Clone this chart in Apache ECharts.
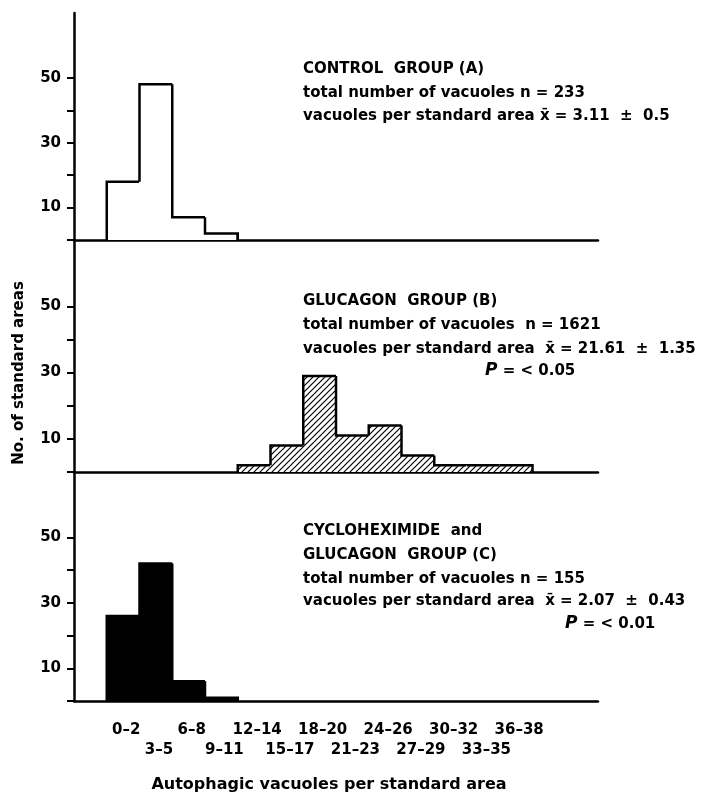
<!DOCTYPE html>
<html>
<head>
<meta charset="utf-8">
<script src="https://cdn.jsdelivr.net/npm/echarts@6/dist/echarts.min.js"></script>
<style>
  html, body { margin: 0; padding: 0; background: #fff; }
  #chart { width: 707px; height: 794px; }
</style>
</head>
<body>
<div id="chart"></div>
<script>
"use strict";

// bins of autophagic vacuoles per standard area
const bins = ['0–2', '3–5', '6–8', '9–11', '12–14', '15–17', '18–20',
              '21–23', '24–26', '27–29', '30–32', '33–35', '36–38'];

// number of standard areas per bin (75 areas each group)
const controlCounts  = [18, 48, 7, 2, 0, 0, 0, 0, 0, 0, 0, 0, 0];
const glucagonCounts = [0, 0, 0, 0, 2, 8, 29, 11, 14, 5, 2, 2, 2];
const cycloCounts    = [26, 42, 6, 1, 0, 0, 0, 0, 0, 0, 0, 0, 0];

const yTickValues  = [0, 10, 20, 30, 40, 50];
const yLabelValues = [10, 30, 50];

const FONT = 'DejaVu Sans';

// empty band before the first bin and two after the last one
const axisCats = [''].concat(bins, ['', '']);

function hatchCanvas() {
    const s = 6;
    const c = document.createElement('canvas');
    c.width = s; c.height = s;
    const ctx = c.getContext('2d');
    ctx.fillStyle = '#fff';
    ctx.fillRect(0, 0, s, s);
    ctx.strokeStyle = '#000';
    ctx.lineWidth = 1.2;
    ctx.beginPath();
    ctx.moveTo(-1, s + 1); ctx.lineTo(s + 1, -1);
    ctx.moveTo(-1, 1); ctx.lineTo(1, -1);
    ctx.moveTo(s - 1, s + 1); ctx.lineTo(s + 1, s - 1);
    ctx.stroke();
    return c;
}

function histData(counts) {
    return counts.map((v, i) => [i + 1, v, counts[i - 1] || 0, counts[i + 1] || 0]);
}

// histogram drawn as filled blocks with a stepped outline
function histRender(fill) {
    return function (params, api) {
        const v = api.value(1), prev = api.value(2), next = api.value(3);
        const w = api.size([1, 0])[0];
        const base = api.coord([api.value(0), 0]);
        const topY = api.coord([api.value(0), v])[1];
        const prevY = api.coord([api.value(0), prev])[1];
        const x0 = base[0] - w / 2, x1 = base[0] + w / 2;
        const children = [];
        if (v > 0) {
            children.push({
                type: 'rect',
                shape: { x: x0 - 0.5, y: topY, width: w + 1, height: base[1] - topY },
                style: { fill: fill, stroke: null }
            });
        }
        if (v > 0 || prev > 0) {
            const pts = [[x0, prevY], [x0, topY]];
            if (v > 0) pts.push([x1, topY]);
            if (v > 0 && next === 0) pts.push([x1, base[1]]);
            children.push({
                type: 'polyline',
                shape: { points: pts },
                style: { stroke: '#000', lineWidth: 2.5, fill: null, lineJoin: 'miter' }
            });
        }
        return { type: 'group', children: children };
    };
}

const grids = [
    { left: 74, right: 109, top: 13, height: 227 },
    { left: 74, right: 109, top: 240, height: 232 },
    { left: 74, right: 109, top: 472, height: 229 }
];

const xAxes = grids.map((g, k) => ({
    type: 'category',
    gridIndex: k,
    data: axisCats,
    axisLine: { lineStyle: { color: '#000', width: 2.5 } },
    axisTick: { show: false },
    axisLabel: k < 2 ? { show: false } : {
        interval: 0,
        margin: 19,
        color: '#000',
        fontFamily: FONT,
        fontWeight: 'bold',
        fontSize: 15,
        lineHeight: 20,
        verticalAlign: 'top',
        padding: [0, 0, 0, 6],
        formatter: (val, idx) => ((idx - 1) % 2 === 1 ? '\n' + val : val)
    }
}));

const yAxes = grids.map((g, k) => ({
    type: 'value',
    gridIndex: k,
    min: 0,
    max: 70,
    splitLine: { show: false },
    axisLine: { show: true, lineStyle: { color: '#000', width: 2.5 } },
    axisTick: { show: true, length: 7, customValues: yTickValues, lineStyle: { color: '#000', width: 2 } },
    axisLabel: {
        customValues: yLabelValues,
        margin: 13,
        color: '#000',
        fontFamily: FONT,
        fontWeight: 'bold',
        fontSize: 15
    }
}));

const hatch = { image: hatchCanvas(), repeat: 'repeat' };

const series = [
    { counts: controlCounts, fill: '#fff' },
    { counts: glucagonCounts, fill: hatch },
    { counts: cycloCounts, fill: '#000' }
].map((s, k) => ({
    type: 'custom',
    xAxisIndex: k,
    yAxisIndex: k,
    renderItem: histRender(s.fill),
    encode: { x: 0, y: 1 },
    data: histData(s.counts),
    silent: true,
    z: 1
}));

const txt = (x, y, text, extra) => ({
    type: 'text',
    x: x,
    y: y,
    style: Object.assign({
        text: text,
        font: 'bold 15px "' + FONT + '"',
        fill: '#000',
        textVerticalAlign: 'middle'
    }, extra || {})
});

const pRich = { p: { fontStyle: 'italic', fontWeight: 'bold', fontSize: 17, fontFamily: FONT } };

const graphics = [
    txt(303, 69, 'CONTROL  GROUP (A)'),
    txt(303, 93, 'total number of vacuoles n = 233'),
    txt(303, 116, 'vacuoles per standard area x̄ = 3.11  ±  0.5'),

    txt(303, 301, 'GLUCAGON  GROUP (B)'),
    txt(303, 325, 'total number of vacuoles  n = 1621'),
    txt(303, 349, 'vacuoles per standard area  x̄ = 21.61  ±  1.35'),
    txt(485, 371, '{p|P} = < 0.05', { rich: pRich }),

    txt(303, 531, 'CYCLOHEXIMIDE  and'),
    txt(303, 555, 'GLUCAGON  GROUP (C)'),
    txt(303, 579, 'total number of vacuoles n = 155'),
    txt(303, 601, 'vacuoles per standard area  x̄ = 2.07  ±  0.43'),
    txt(565, 624, '{p|P} = < 0.01', { rich: pRich }),

    txt(329, 785, 'Autophagic vacuoles per standard area', { textAlign: 'center', font: 'bold 16px "' + FONT + '"' }),
    {
        type: 'text',
        x: 19,
        y: 373,
        rotation: Math.PI / 2,
        style: {
            text: 'No. of standard areas',
            font: 'bold 15px "' + FONT + '"',
            fill: '#000',
            textAlign: 'center',
            textVerticalAlign: 'middle'
        }
    }
];

const myChart = echarts.init(document.getElementById('chart'));
myChart.setOption({
    animation: false,
    backgroundColor: '#fff',
    grid: grids,
    xAxis: xAxes,
    yAxis: yAxes,
    series: series,
    graphic: graphics
});
</script>
</body>
</html>
